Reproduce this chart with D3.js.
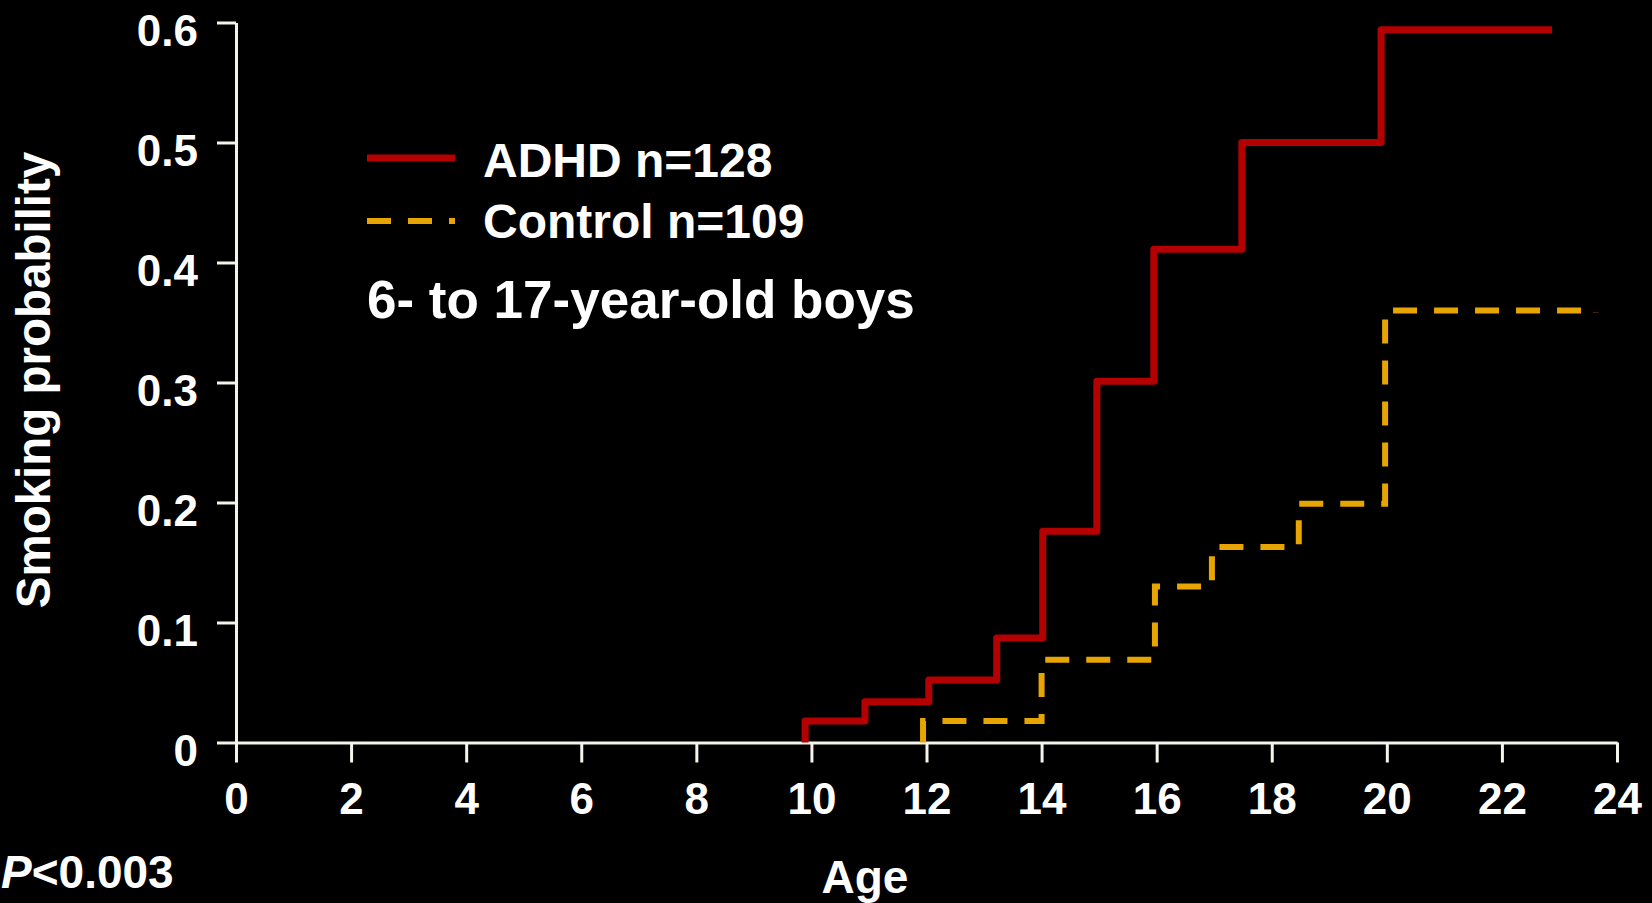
<!DOCTYPE html>
<html>
<head>
<meta charset="utf-8">
<script src="https://cdn.jsdelivr.net/npm/d3@7"></script>
<style>
  html, body { margin: 0; padding: 0; background: #000; }
  svg { display: block; }
  text { font-family: "Liberation Sans", Arial, sans-serif; font-weight: bold; fill: #fff; }
</style>
</head>
<body>
<div id="chart"></div>
<script>
// step curves: [age, cumulative smoking probability]
let adhd_ages = [9.89, 9.89, 10.93, 12.04, 13.22, 14.02, 14.96, 15.95, 17.48, 19.90, 22.87];
let adhd_probs = [0, 0.018, 0.034, 0.052, 0.087, 0.176, 0.301, 0.411, 0.500, 0.594, 0.594];

let control_ages = [11.94, 11.94, 14.00, 15.97, 16.96, 18.47, 19.97, 23.63];
let control_probs = [0, 0.018, 0.069, 0.130, 0.163, 0.199, 0.360, 0.358];

let x_ticks = [0, 2, 4, 6, 8, 10, 12, 14, 16, 18, 20, 22, 24];
let y_ticks = [0, 0.1, 0.2, 0.3, 0.4, 0.5, 0.6];

let legend_items = [
    {label: "ADHD n=128", color: "#b40000", dash: null, width: 7},
    {label: "Control n=109", color: "#e8a400", dash: "24,17", width: 6}
];

const W = 1652, H = 903;
const margin = {top: 22.5, right: 35, bottom: 160.5, left: 236};

let svg = d3.select("#chart").append("svg")
    .attr("width", W)
    .attr("height", H)
    .style("background", "#000");

let x = d3.scaleLinear().domain([0, 24]).range([margin.left, W - margin.right]);
let y = d3.scaleLinear().domain([0, 0.6]).range([H - margin.bottom, margin.top]);

// axes
let xAxis = svg.append("g")
    .attr("transform", `translate(0,${y(0)})`)
    .call(d3.axisBottom(x).tickValues(x_ticks).tickSize(20).tickSizeOuter(0).tickPadding(20).tickFormat(d3.format("d")));

let yAxis = svg.append("g")
    .attr("transform", `translate(${x(0)},0)`)
    .call(d3.axisLeft(y).tickValues(y_ticks).tickSize(19).tickSizeOuter(0).tickPadding(19)
        .tickFormat(d => d === 0 ? "0" : d3.format(".1f")(d)));

[xAxis, yAxis].forEach(function(ax){
    ax.select(".domain").attr("stroke", "#f4f4ea").attr("stroke-width", 3);
    ax.selectAll(".tick line").attr("stroke", "#f4f4ea").attr("stroke-width", 3);
    ax.selectAll(".tick text")
        .attr("fill", "#fff")
        .style("font-size", "44px")
        .style("font-family", "'Liberation Sans', Arial, sans-serif")
        .style("font-weight", "bold");
});
yAxis.selectAll(".tick text").attr("dy", "0.52em");
xAxis.selectAll(".tick text").attr("dy", "0.71em");

// curves
let line = d3.line()
    .x(d => x(d[0]))
    .y(d => y(d[1]))
    .curve(d3.curveStepAfter);

let adhd_data = adhd_ages.map((a, i) => [a, adhd_probs[i]]);
let control_data = control_ages.map((a, i) => [a, control_probs[i]]);

svg.append("path")
    .datum(control_data)
    .attr("d", line)
    .attr("fill", "none")
    .attr("stroke", legend_items[1].color)
    .attr("stroke-width", legend_items[1].width)
    .attr("stroke-dasharray", legend_items[1].dash);

svg.append("path")
    .datum(adhd_data)
    .attr("d", line)
    .attr("fill", "none")
    .attr("stroke", legend_items[0].color)
    .attr("stroke-width", legend_items[0].width)
    .attr("stroke-linejoin", "round");

// legend
let legend = svg.append("g");
legend_items.forEach(function(d, i){
    let ly = 158 + i * 63;
    legend.append("line")
        .attr("x1", 367).attr("x2", 455)
        .attr("y1", ly).attr("y2", ly)
        .attr("stroke", d.color)
        .attr("stroke-width", d.width)
        .attr("stroke-dasharray", d.dash);
    legend.append("text")
        .attr("x", 483)
        .attr("y", ly + 19 - i * 2)
        .style("font-size", "48px")
        .text(d.label);
});

svg.append("text")
    .attr("x", 367)
    .attr("y", 318)
    .style("font-size", "53px")
    .text("6- to 17-year-old boys");

// axis titles
svg.append("text")
    .attr("transform", "translate(50,380) rotate(-90)")
    .attr("text-anchor", "middle")
    .style("font-size", "47.5px")
    .text("Smoking probability");

svg.append("text")
    .attr("x", 865)
    .attr("y", 893)
    .attr("text-anchor", "middle")
    .style("font-size", "46px")
    .text("Age");

let p_text = svg.append("text")
    .attr("x", 1)
    .attr("y", 888)
    .style("font-size", "46px");
p_text.append("tspan").style("font-style", "italic").text("P");
p_text.append("tspan").text("<0.003");
</script>
</body>
</html>
